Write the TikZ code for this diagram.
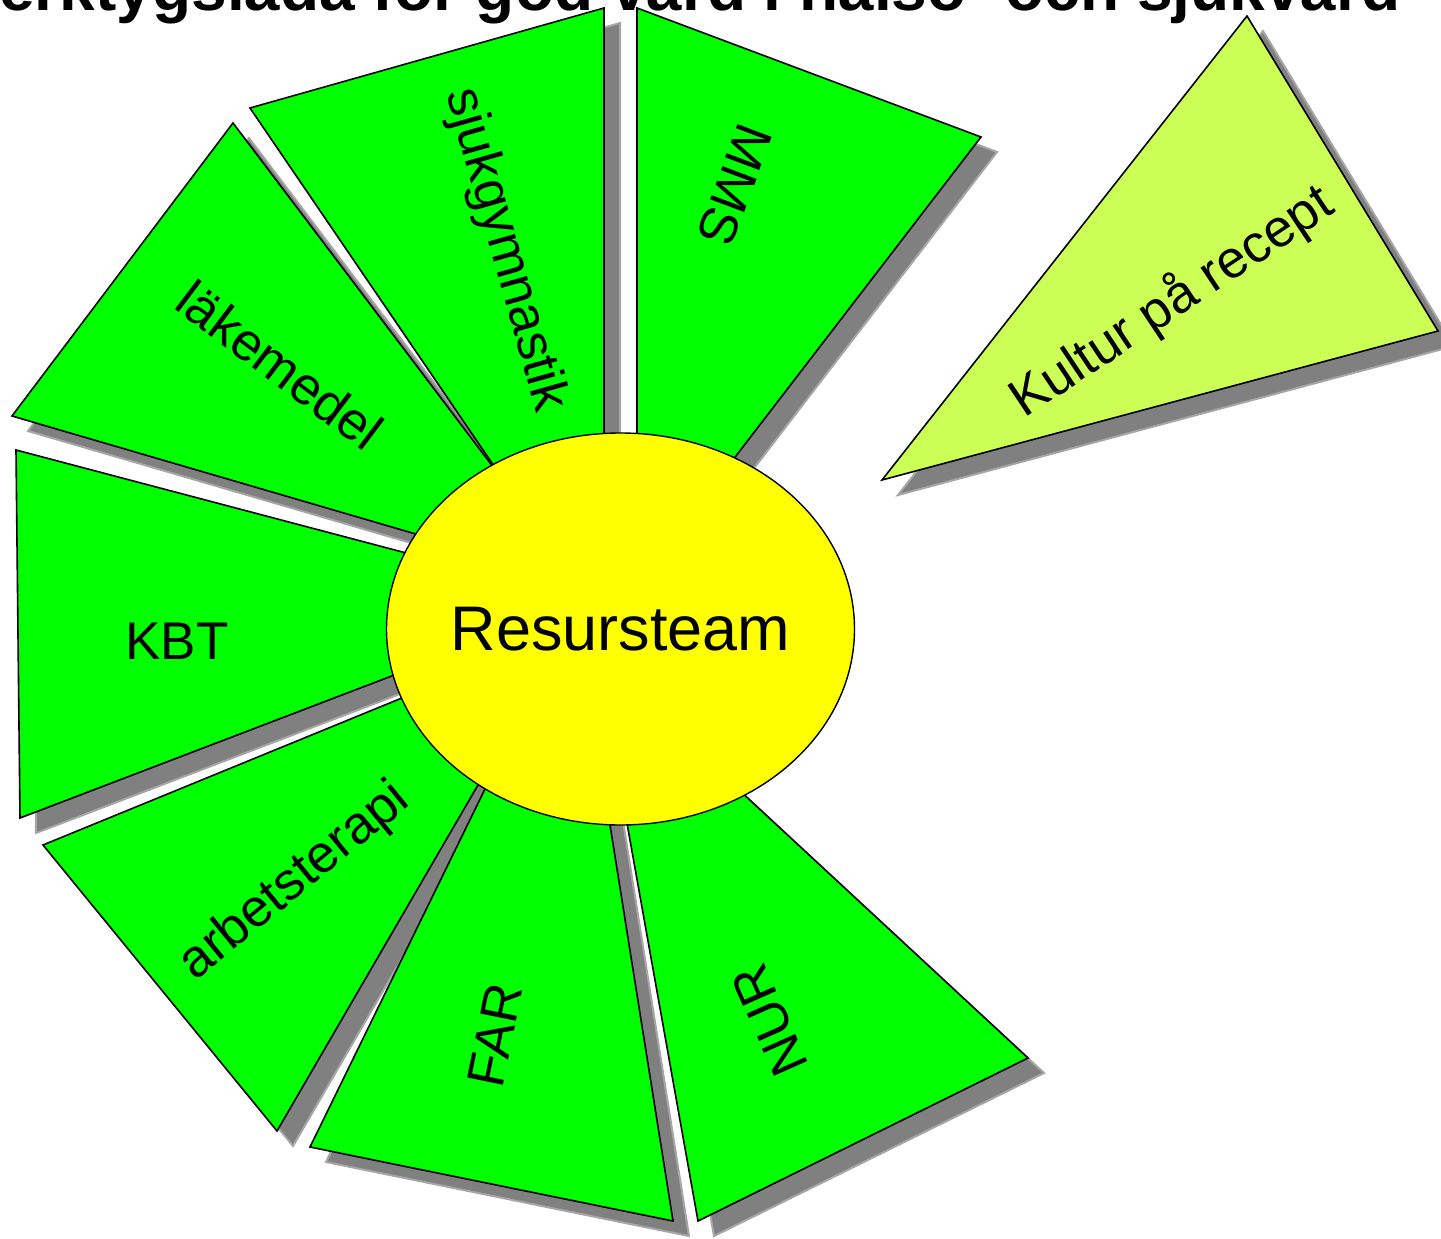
\documentclass[tikz,border=0pt]{standalone}
\usepackage{fontspec}
\setmainfont{Liberation Sans}
\usetikzlibrary{shapes.geometric}
\definecolor{wedgegreen}{RGB}{0,255,0}
\definecolor{kulturgreen}{RGB}{204,255,85}
\definecolor{shadegray}{RGB}{128,128,128}
\definecolor{centreyellow}{RGB}{255,255,0}
\begin{document}
\begin{tikzpicture}[x=1pt,y=-1pt,
  wedgebox/.style={fill=wedgegreen,draw=black,line width=1.6pt,line join=miter},
  kulturbox/.style={fill=kulturgreen,draw=black,line width=1.6pt,line join=miter},
  shadowbox/.style={fill=shadegray,draw=shadegray!70!white,line width=2pt},
  lbl/.style={font=\fontsize{53}{60}\selectfont,inner sep=0pt},
  pMMS/.style={insert path={(637,8) -- (981,137) -- (656,560) -- (637,560) -- cycle}},
  pSjuk/.style={insert path={(250,108) -- (604,8) -- (604,560) -- (558,560) -- cycle}},
  pLak/.style={insert path={(233,123) -- (580,582) -- (12,416) -- cycle}},
  pKBT/.style={insert path={(16,450) -- (588,601) -- (20,818) -- cycle}},
  pArb/.style={insert path={(43,845) -- (568,630) -- (277,1131) -- cycle}},
  pFAR/.style={insert path={(310,1147) -- (575,605) -- (673,1221) -- cycle}},
  pNUR/.style={insert path={(698,1221) -- (605,700) -- (642,700) -- (1028,1058) -- cycle}},
  pKult/.style={insert path={(1247,16) -- (1438,331) -- (882,480) -- cycle}}]
\clip (0,0) rectangle (1441,1239);
\useasboundingbox (0,0) rectangle (1441,1239);
% title (cut off at the top)
\node[anchor=base west,inner sep=0pt,font=\fontsize{64}{70}\selectfont\bfseries] (title) at (-40,11) {Verktygslåda för god vård i hälso- och sjukvård};
% shadows
\begin{scope}[shift={(16,15)}]
  \path[shadowbox,pMMS];
  \path[shadowbox,pSjuk];
  \path[shadowbox,pLak];
  \path[shadowbox,pKBT];
  \path[shadowbox,pArb];
  \path[shadowbox,pFAR];
  \path[shadowbox,pNUR];
  \path[shadowbox,pKult];
\end{scope}
% wedges
\path[wedgebox,pMMS];
\path[wedgebox,pSjuk];
\path[wedgebox,pLak];
\path[wedgebox,pKBT];
\path[wedgebox,pArb];
\path[wedgebox,pFAR];
\path[wedgebox,pNUR];
\path[kulturbox,pKult];
% labels
\node[lbl,rotate=-110.6] (mms) at (735,185) {MMS};
\node[lbl,rotate=-74.2] (sjuk) at (505,250) {sjukgymnastik};
\node[lbl,rotate=-37] (lak) at (280,365) {läkemedel};
\node[lbl] (kbt) at (177,641) {KBT};
\node[lbl,rotate=39.3] (arb) at (295,882) {arbetsterapi};
\node[lbl,rotate=78.5] (far) at (495,1035) {FAR};
\node[lbl,rotate=114] (nur) at (770,1020) {NUR};
\node[lbl,rotate=33.6] (kultur) at (1172,302) {Kultur på recept};
% centre
\node[ellipse,fill=centreyellow,draw=black,line width=1.4pt,minimum width=468pt,minimum height=392pt,inner sep=0pt] (res) at (620.5,629) {};
\node[inner sep=0pt,font=\fontsize{63}{70}\selectfont] (restext) at (res.center) {Resursteam};
\end{tikzpicture}
\end{document}
